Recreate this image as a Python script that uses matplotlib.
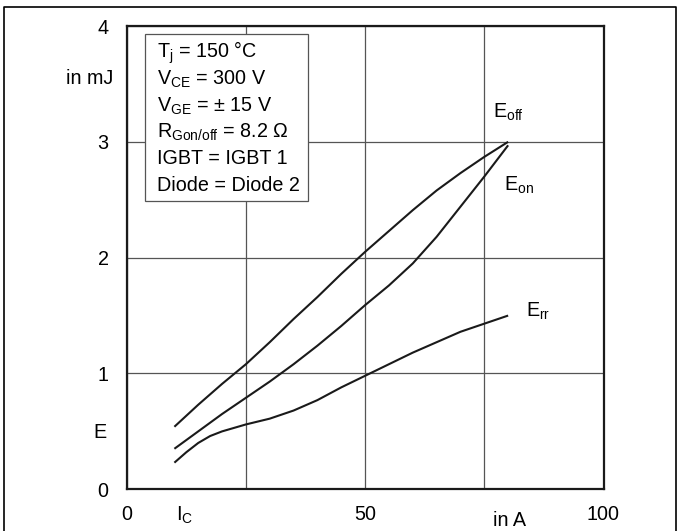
import matplotlib
matplotlib.use('Agg')
import matplotlib.pyplot as plt
from matplotlib.lines import Line2D

plt.rcParams['font.family'] = ['Liberation Sans', 'DejaVu Sans']
plt.rcParams['mathtext.fontset'] = 'custom'
plt.rcParams['mathtext.rm'] = 'Liberation Sans'
plt.rcParams['mathtext.it'] = 'Liberation Sans'

# collector current in A
ic_off = [10, 15, 20, 25, 30, 35, 40, 45, 50, 55, 60, 65, 70, 75, 80]
e_off = [0.54, 0.73, 0.91, 1.08, 1.27, 1.47, 1.66, 1.86, 2.05, 2.23, 2.41, 2.58, 2.73, 2.87, 3.00]

ic_on = [10, 15, 20, 25, 30, 35, 40, 45, 50, 55, 60, 65, 70, 75, 80]
e_on = [0.35, 0.50, 0.65, 0.79, 0.93, 1.08, 1.24, 1.41, 1.59, 1.76, 1.95, 2.18, 2.44, 2.70, 2.97]

ic_rr = [10, 12.5, 15, 17.5, 20, 22.5, 25, 30, 35, 40, 45, 50, 55, 60, 65, 70, 75, 80]
e_rr = [0.23, 0.32, 0.40, 0.46, 0.50, 0.53, 0.56, 0.61, 0.68, 0.77, 0.88, 0.98, 1.08, 1.18, 1.27, 1.36, 1.43, 1.50]

xticks = [0, 25, 50, 75, 100]
xticklabels = ['0', '', '50', '', '100']
yticks = [0, 1, 2, 3, 4]

conditions = [r'$\mathregular{T_j}$ = 150 °C',
              r'$\mathregular{V_{CE}}$ = 300 V',
              r'$\mathregular{V_{GE}}$ = ± 15 V',
              r'$\mathregular{R_{Gon/off}}$ = 8.2 Ω',
              'IGBT = IGBT 1',
              'Diode = Diode 2']

FS = 14.2
W, H = 677, 531
fig = plt.figure(figsize=(W / 100, H / 100), dpi=100)
ax = fig.add_axes([126.7 / W, 1 - 489.3 / H, (603.5 - 126.7) / W, (489.3 - 26) / H])

for x, y in [(ic_off, e_off), (ic_on, e_on), (ic_rr, e_rr)]:
    ax.plot(x, y, color='#1a1a1a', lw=1.5, solid_capstyle='butt', solid_joinstyle='round')

ax.set_xlim(0, 100)
ax.set_ylim(0, 4)
ax.set_xticks(xticks)
ax.set_xticklabels(xticklabels, fontsize=FS)
ax.set_yticks(yticks)
ax.set_yticklabels([str(v) for v in yticks], fontsize=FS)
ax.tick_params(length=0)
ax.tick_params(axis='y', pad=13)
ax.tick_params(axis='x', pad=11)
ax.grid(True, color='#555555', lw=0.9)
ax.set_axisbelow(True)
for s in ax.spines.values():
    s.set_linewidth(1.6)
    s.set_color('#1a1a1a')

# curve labels
ax.text(76.8, 3.21, r'$\mathregular{E_{off}}$', fontsize=FS)
ax.text(79.1, 2.58, r'$\mathregular{E_{on}}$', fontsize=FS)
ax.text(83.7, 1.49, r'$\mathregular{E_{rr}}$', fontsize=FS)

# axis names placed like datasheet
fig.text(113 / W, 1 - 78 / H, 'in mJ', ha='right', va='center', fontsize=FS)
fig.text(100 / W, 1 - 433 / H, 'E', ha='center', va='center', fontsize=FS)
fig.text(185 / W, 1 - 515 / H, r'$\mathregular{I_C}$', ha='center', va='center', fontsize=FS)
fig.text(510 / W, 1 - 520 / H, 'in A', ha='center', va='center', fontsize=FS)

# conditions box
box = plt.Rectangle((145 / W, 1 - 201 / H), (308 - 145) / W, (201 - 34) / H,
                    transform=fig.transFigure, facecolor='white', edgecolor='#555555', lw=0.9)
fig.add_artist(box)
for i, t in enumerate(conditions):
    fig.text(157 / W, 1 - (58 + 26.6 * i) / H, t, ha='left', va='baseline', fontsize=FS)

# outer frame (open at bottom)
fig.add_artist(Line2D([4 / W, 4 / W, 675.5 / W, 675.5 / W], [0, 1 - 7 / H, 1 - 7 / H, 0],
                      transform=fig.transFigure, color='black', lw=1.2))

fig.savefig('out.png', dpi=100)
